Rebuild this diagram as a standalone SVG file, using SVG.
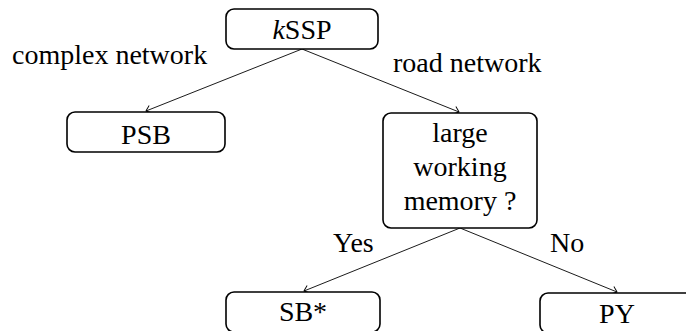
<svg xmlns="http://www.w3.org/2000/svg" width="686" height="331" viewBox="0 0 686 331">
<style>
.node rect{fill:#fff;stroke:#000;stroke-width:1.6}
text{font-family:"Liberation Serif","Times New Roman",serif;font-size:28px;fill:#000}
.c{text-anchor:middle}
.edge{fill:none;stroke:#000;stroke-width:0.9}
</style>
<defs>
<marker id="arr" viewBox="-6 -5 8 10" refX="0" refY="0" markerWidth="8" markerHeight="10" markerUnits="userSpaceOnUse" orient="auto">
<path d="M-5,-4 Q-1,-1 0,0 Q-1,1 -5,4" fill="none" stroke="#000" stroke-width="0.9"/>
</marker>
</defs>
<g id="connectors">
<line class="edge" x1="302" y1="49" x2="146" y2="111" marker-end="url(#arr)"/>
<line class="edge" x1="302" y1="49" x2="459" y2="112" marker-end="url(#arr)"/>
<line class="edge" x1="460" y1="228" x2="304" y2="291" marker-end="url(#arr)"/>
<line class="edge" x1="460" y1="228" x2="617" y2="292" marker-end="url(#arr)"/>
</g>
<g id="labels">
<text x="12" y="64">complex network</text>
<text x="393" y="72">road network</text>
<text x="333" y="252">Yes</text>
<text x="550" y="252">No</text>
</g>
<g id="kssp" class="node">
<rect x="226" y="9" width="152" height="40" rx="8"/>
<text class="c" x="302" y="39"><tspan font-style="italic">k</tspan>SSP</text>
</g>
<g id="psb" class="node">
<rect x="67" y="112" width="158" height="40" rx="8"/>
<text class="c" x="146" y="144">PSB</text>
</g>
<g id="lwm" class="node">
<rect x="383" y="113" width="154" height="115" rx="8"/>
<text class="c" x="460" y="142">large</text>
<text class="c" x="460" y="176">working</text>
<text class="c" x="460" y="210">memory ?</text>
</g>
<g id="sbstar" class="node">
<rect x="226" y="292" width="154" height="40" rx="8"/>
<text class="c" x="303" y="321">SB*</text>
</g>
<g id="py" class="node">
<rect x="540" y="293" width="154" height="40" rx="8"/>
<text class="c" x="617" y="323">PY</text>
</g>
</svg>
